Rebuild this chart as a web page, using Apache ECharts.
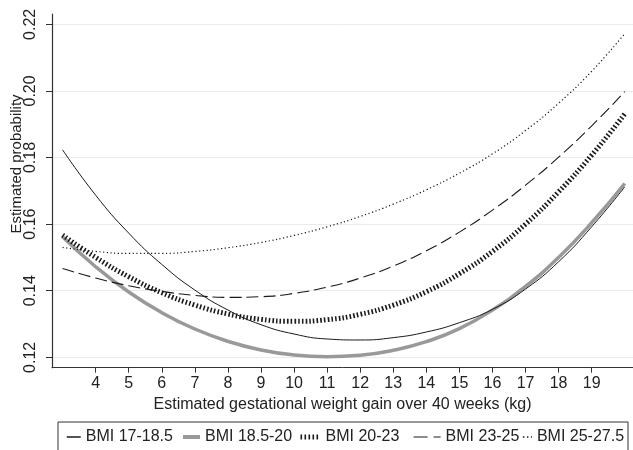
<!DOCTYPE html>
<html>
<head>
<meta charset="utf-8">
<script src="https://cdn.jsdelivr.net/npm/echarts@6/dist/echarts.min.js"></script>
<style>
html,body{margin:0;padding:0;background:#fff;}
#chart{width:633px;height:450px;}
</style>
</head>
<body>
<div id="chart"></div>
<script>
const weightGain = [3,4,5,6,7,8,9,10,11,12,13,14,15,16,17,18,19,20];
const bmi17_185 = [0.1823,0.1687,0.1573,0.1479,0.1402,0.1342,0.1298,0.1270,0.1255,0.1252,0.1259,0.1276,0.1304,0.1344,0.1405,0.1487,0.1592,0.1712];
const bmi185_20 = [0.1562,0.1472,0.1396,0.1334,0.1285,0.1248,0.1222,0.1207,0.1202,0.1206,0.1221,0.1247,0.1286,0.1342,0.1413,0.1500,0.1604,0.1722];
const bmi20_23  = [0.1567,0.1500,0.1442,0.1394,0.1357,0.1330,0.1314,0.1308,0.1313,0.1329,0.1357,0.1397,0.1451,0.1518,0.1600,0.1697,0.1807,0.1931];
const bmi23_25  = [0.1467,0.1438,0.1415,0.1398,0.1386,0.1380,0.1382,0.1392,0.1411,0.1438,0.1474,0.1520,0.1576,0.1642,0.1717,0.1801,0.1895,0.1998];
const bmi25_275 = [0.1530,0.1518,0.1512,0.1512,0.1518,0.1529,0.1545,0.1566,0.1592,0.1623,0.1660,0.1703,0.1753,0.1811,0.1881,0.1963,0.2059,0.2172];
const seriesNames = ['BMI 17-18.5','BMI 18.5-20','BMI 20-23','BMI 23-25','BMI 25-27.5'];
const xTicks = [4,5,6,7,8,9,10,11,12,13,14,15,16,17,18,19];
const yTicks = [0.12,0.14,0.16,0.18,0.20,0.22];

const pairs = arr => weightGain.map((x,i)=>[x,arr[i]]);
const font = 'Liberation Sans, Arial, sans-serif';

const chart = echarts.init(document.getElementById('chart'));
const lineStyles = [
  {color:'#1a1a1a', width:1, type:'solid'},
  {color:'#999999', width:3.5, type:'solid'},
  {color:'#1a1a1a', width:5, type:[1.6,2.1], cap:'butt'},
  {color:'#1a1a1a', width:1.1, type:[12,5]},
  {color:'#1a1a1a', width:1.2, type:[1.2,2.5]}
];
const datasets = [bmi17_185,bmi185_20,bmi20_23,bmi23_25,bmi25_275];
const legendPos = [[66,14],[181,17],[298,20],[413,27],[521,9]];
const legendLine = [
  {width:1.5},
  {width:4},
  {width:5, type:[1.6,2.4], cap:'butt'},
  {width:1.2, type:[14,6]},
  {width:1.5, type:[1.5,2.5]}
];

chart.setOption({
  animation:false,
  backgroundColor:'#fff',
  grid:{left:52,right:0,top:14,bottom:82.3,containLabel:false},
  xAxis:{
    type:'value', min:2.68, max:20.25,
    name:'Estimated gestational weight gain over 40 weeks (kg)',
    nameLocation:'middle', nameGap:26,
    nameTextStyle:{fontFamily:font,fontSize:16,color:'#222'},
    axisLine:{show:true,onZero:false,lineStyle:{color:'#333',width:1}},
    axisTick:{show:true,length:5,customValues:xTicks,lineStyle:{color:'#333'}},
    axisLabel:{customValues:xTicks,margin:8,fontFamily:font,fontSize:16,color:'#222'},
    splitLine:{show:false}
  },
  yAxis:{
    type:'value', min:0.11688, max:0.2231,
    axisLine:{show:true,onZero:false,lineStyle:{color:'#333',width:1.2}},
    axisTick:{show:true,length:6,customValues:yTicks,lineStyle:{color:'#333'}},
    axisLabel:{customValues:yTicks,rotate:90,margin:13,fontFamily:font,fontSize:16,color:'#222',
      formatter:v=>v.toFixed(2)},
    splitLine:{show:true,lineStyle:{color:'#ebebeb',width:1}}
  },
  legend: seriesNames.map((n,i)=>({
    data:[n], left:legendPos[i][0], top:429, itemWidth:legendPos[i][1], itemHeight:16,
    padding:0, itemGap:0, itemStyle:{opacity:0}, lineStyle:legendLine[i],
    textStyle:{fontFamily:font,fontSize:16,color:'#222'}
  })),
  graphic:[
    {type:'rect',shape:{x:58,y:422,width:570,height:40},style:{fill:'none',stroke:'#333',lineWidth:1},silent:true},
    {type:'text',x:17,y:164,rotation:Math.PI/2,style:{text:'Estimated probability',fontFamily:font,fontSize:15,fill:'#222',align:'center',verticalAlign:'middle'}}
  ],
  series: seriesNames.map((n,i)=>({
    name:n, type:'line', data:pairs(datasets[i]), smooth:0.5, symbol:'none',
    color:lineStyles[i].color, itemStyle:{color:lineStyles[i].color},
    lineStyle:lineStyles[i], z: i===1?2:3
  }))
});
</script>
</body>
</html>
